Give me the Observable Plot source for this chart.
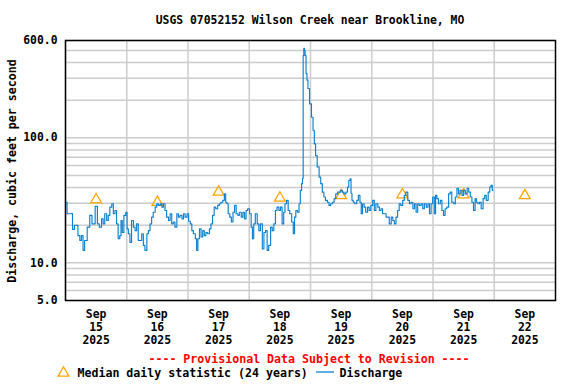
<!DOCTYPE html>
<html><head><meta charset="utf-8">
<script src="https://cdn.jsdelivr.net/npm/d3@7"></script>
<script src="https://cdn.jsdelivr.net/npm/@observablehq/plot@0.6"></script>
<style>
body{margin:0;background:#fff;}
#chart svg{display:block;}
</style></head><body><div id="chart"></div>
<script>
const title = "USGS 07052152 Wilson Creek near Brookline, MO";
const yLabel = "Discharge, cubic feet per second";
const provisional = "---- Provisional Data Subject to Revision ----";
const medianLabel = "Median daily statistic (24 years)";
const dischargeLabel = "Discharge";
const startDate = "2025-09-15";
const endDate = "2025-09-23";
const dayLabels = ["Sep\n15\n2025","Sep\n16\n2025","Sep\n17\n2025","Sep\n18\n2025","Sep\n19\n2025","Sep\n20\n2025","Sep\n21\n2025","Sep\n22\n2025"];
const medianDays = ["2025-09-15","2025-09-16","2025-09-17","2025-09-18","2025-09-19","2025-09-20","2025-09-21","2025-09-22"];
const medianValues = [32.0, 30.5, 36.8, 33.0, 34.5, 35.1, 35.1, 34.5];
const yTicks = [5, 10, 100, 600];
const yGrid = [5,6,7,8,9,10,20,30,40,50,60,70,80,90,100,200,300,400,500,600];
// hours since 2025-09-15 00:00
const hours = [0.25,1,2,2.5,3,4,4.5,5.25,6,6.5,7.25,7.75,9.25,9.75,11,12.25,12.75,13.75,14.5,15,15.75,16.5,17,17.75,18.5,19,19.75,20.25,21,21.5,22,22.5,23.25,24,24.25,25,25.5,26.25,27,27.5,28.25,28.75,29.5,30.25,30.75,31.5,32.25,32.75,33.5,34,34.75,35.5,36,36.75,37.5,38,38.75,39.25,40,40.75,41.25,42,42.5,43.25,44,44.5,45.25,46,46.5,47.25,48,48.5,49.25,49.75,50.5,51.25,51.5,52.25,52.75,53.5,54,54.75,55.25,56,56.75,57.25,58,58.5,59.25,60,60.5,61.25,62,62.5,63,63.5,64,64.75,65.25,66,66.5,67.25,67.75,68.5,69.25,69.75,70.5,71,71.75,72.5,73,73.5,74,74.75,75.5,76,76.75,77.5,78,78.75,79.25,80,80.75,81.25,82,82.5,83.25,84,84.5,85.25,85.75,86.25,87,87.5,88.25,89,89.5,90,90.5,91.25,91.75,92.25,92.75,93,93.25,93.5,93.75,94,94.5,94.75,95.25,96,96.75,97.25,97.75,98.25,99,99.75,100.25,101,101.5,102.25,103,103.5,104.25,105,105.5,106.25,107,107.5,108.25,108.75,109.5,110.25,110.75,111.25,111.75,112,112.5,113,113.75,114.5,115,115.75,116,116.75,117.25,118,118.75,119.25,120,120.75,121.25,122,122.75,123.25,124,124.5,125.25,126,126.5,127.25,128,128.5,129.25,129.75,130.5,131,131.75,132.5,133,133.75,134.5,135,135.75,136.5,137,137.75,138.25,139,139.75,140.25,141,141.75,142.25,143,143.5,144.25,144.75,145.25,145.75,146.5,147.25,147.75,148.5,149,149.75,150.5,151,151.75,152.5,153,153.75,154.25,155,155.75,156.25,157,157.75,158.25,159,159.5,160.25,160.75,161.25,162,162.5,163.25,164,164.5,165.25,166,166.5,167,167.5];
const discharge = [30.5,24.7,24.7,24.8,18.5,20,20,16.5,15.1,16.5,12.6,15.1,19.3,24,20.5,28.3,20.5,19.3,22.5,20.5,24.7,21.8,24,27.9,29.7,24.7,26.2,20.5,15.6,16.5,21.8,17.5,24,25.4,18.7,17.1,14.6,21.8,19.3,18.1,20.5,15.1,15.1,17.1,13.8,12.6,17.1,18.1,20.5,23.2,25.4,27.9,29.7,28.8,29.7,27.9,29.7,26.2,23.2,21.8,24.7,20.5,21.2,19.3,24.7,23.2,24,22.5,24.7,23.2,24.7,21.5,20.5,18.1,17.1,15.6,12.6,15.6,18.7,16.1,18.1,16.5,17.5,17.1,18.7,20.5,24,27.9,27.1,28.8,29.7,30.5,31.6,35.6,30.5,29.7,24.7,23.2,21.2,25.4,28.8,24.7,24,25.4,23.2,25.4,22.5,26.2,27.1,24.7,19.3,15.6,20.5,24.7,20.5,18.1,20.5,12.9,17.5,18.1,12.6,13.8,19.3,18.1,20.5,26.2,27.9,26.2,27.9,20.5,25.4,29.7,31.6,26.2,24.7,21.2,17.1,23.2,26.2,25.4,29.7,38,43,47.4,455,520,500,454,326,289,248,187,146,115,89.5,72,58.5,48.5,43,36.8,33.6,31.6,30.5,28.8,29.7,30.5,32.6,35.6,36.8,36.8,38,36.8,35.6,36.8,40.4,45.6,47,36,31.6,30.5,29.7,31.6,34.6,30.5,24.7,29.7,27.9,25.4,27.9,26.2,28.8,31.6,26.2,29.7,27.9,26.2,27.1,24.7,24.7,23.2,23.2,20.5,23.2,21.8,20.5,23.2,26.2,29.7,28.8,31.6,34.6,36.8,31.6,29.7,30.5,27.1,29.7,25.4,29.7,28.8,29.7,27.1,29.7,27.9,29.7,24.7,29.7,33.6,24.7,34.6,32.6,29.7,31.6,26.2,24,27.1,27.9,35.6,36.8,30.5,29.7,33.6,39.4,35.6,38,34.6,38,35.6,39.4,36.8,33.6,30.5,26.2,32.6,30.5,29.7,30.5,27.1,32.6,34.6,31.6,36.8,40.4,41.6,38];

const FONT = "DejaVu Sans Mono";
const t0 = Date.parse(startDate + "T00:00:00Z");
const flow = hours.map((h, i) => ({date: new Date(t0 + h * 3600e3), q: discharge[i]}));
const noons = medianDays.map(d => new Date(d + "T12:00:00Z"));
const med = medianDays.map((d, i) => ({date: noons[i], q: medianValues[i]}));
const dayStarts = d3.utcDay.range(new Date(startDate + "T00:00:00Z"), new Date(endDate + "T00:00:00Z"));

const chart = Plot.plot({
  width: 576, height: 384,
  marginTop: 40, marginBottom: 84, marginLeft: 65, marginRight: 21,
  style: {fontFamily: FONT, fontWeight: "bold", fontSize: "11.4px", color: "#000", background: "#fff"},
  x: {type: "utc", domain: [new Date(startDate + "T00:00:00Z"), new Date(endDate + "T00:00:00Z")], axis: null},
  y: {type: "log", domain: [5, 600], axis: null},
  marks: [
    Plot.ruleY(yGrid, {stroke: "#cccccc", strokeWidth: 1.5}),
    Plot.ruleX(dayStarts, {stroke: "#cccccc", strokeWidth: 1.5}),
    Plot.dot(med, {x: "date", y: "q", symbol: "triangle", r: 4, stroke: "#ffa500", fill: "none", strokeWidth: 1.3}),
    Plot.line(flow, {x: "date", y: "q", stroke: "#0a80d0", strokeWidth: 1.15, curve: "step"}),
    Plot.frame({stroke: "#000", strokeWidth: 1.5}),
    Plot.text(yTicks, {y: d => d, text: d => d.toFixed(1), frameAnchor: "left", textAnchor: "end", dx: -8, fontWeight: "bold"}),
    Plot.text(noons, {x: d => d, text: (d, i) => dayLabels[i], frameAnchor: "bottom", lineAnchor: "top", dy: 8, lineHeight: 1.14, fontWeight: "bold"})
  ]
});
document.getElementById("chart").append(chart);

const svg = d3.select(chart);
svg.append("text").attr("x", 310).attr("y", 24).attr("text-anchor", "middle")
  .attr("font-family", FONT).attr("font-weight", "bold").attr("font-size", "11.4px").text(title);
svg.append("text").attr("transform", "translate(15.5,171) rotate(-90)").attr("text-anchor", "middle")
  .attr("font-family", FONT).attr("font-weight", "bold").attr("font-size", "11.6px").text(yLabel);
svg.append("text").attr("x", 309).attr("y", 362.5).attr("text-anchor", "middle").attr("fill", "#ff0000")
  .attr("font-family", FONT).attr("font-weight", "bold").attr("font-size", "11.6px").text(provisional);
svg.append("path").attr("d", d3.symbol(d3.symbolTriangle, 50)()).attr("transform", "translate(63.5,373)")
  .attr("fill", "none").attr("stroke", "#ffa500").attr("stroke-width", 1.3);
svg.append("text").attr("x", 77.5).attr("y", 376.5).attr("text-anchor", "start")
  .attr("font-family", FONT).attr("font-weight", "bold").attr("font-size", "11.6px").text(medianLabel);
svg.append("line").attr("x1", 316).attr("x2", 334).attr("y1", 372).attr("y2", 372)
  .attr("stroke", "#0a80d0").attr("stroke-width", 1.3);
svg.append("text").attr("x", 339.5).attr("y", 376.5).attr("text-anchor", "start")
  .attr("font-family", FONT).attr("font-weight", "bold").attr("font-size", "11.6px").text(dischargeLabel);
</script></body></html>
